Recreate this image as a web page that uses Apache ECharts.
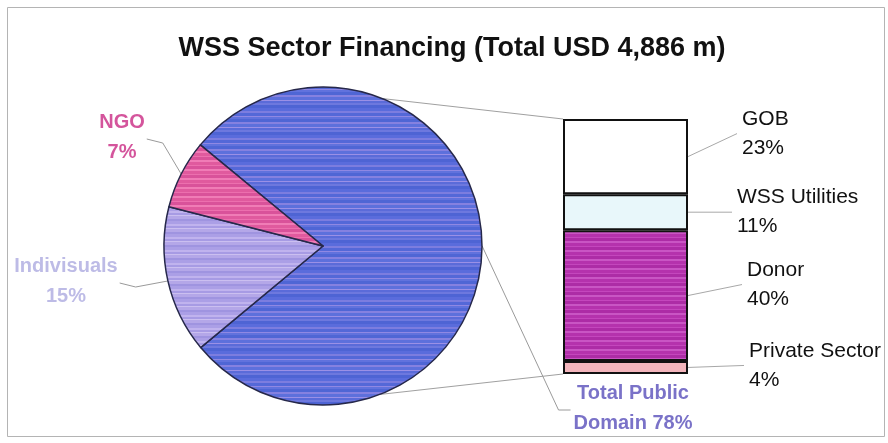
<!DOCTYPE html>
<html>
<head>
<meta charset="utf-8">
<script src="https://cdn.jsdelivr.net/npm/echarts@6/dist/echarts.min.js"></script>
<style>
  html, body { margin: 0; padding: 0; background: #ffffff; }
  #main { width: 888px; height: 443px; }
</style>
</head>
<body>
<div id="main"></div>
<script>
// Pie: funding sources (percent of total)
const pieNames = ['Total Public Domain', 'Indivisuals', 'NGO'];
const pieValues = [78, 15, 7];

// Stacked bar: breakdown of the public domain share, bottom to top
const barNames = ['Private Sector', 'Donor', 'WSS Utilities', 'GOB'];
const barValues = [4, 40, 11, 23];

const titleText = 'WSS Sector Financing (Total USD 4,886 m)';

const FONT = '"Liberation Sans", Arial, Helvetica, sans-serif';

// Horizontal stripe texture, like a scanned print fill
function stripes(colors, heights) {
  const total = heights.reduce((a, b) => a + b, 0);
  const c = document.createElement('canvas');
  c.width = 8; c.height = total;
  const g = c.getContext('2d');
  let y = 0;
  colors.forEach((col, i) => {
    g.fillStyle = col;
    g.fillRect(0, y, 8, heights[i]);
    y += heights[i];
  });
  return { image: c, repeat: 'repeat' };
}

const fillPublic = stripes(
  ['#5a6cdc', '#7c7ddf', '#5468d8', '#8f88e3', '#6172dd', '#4f66d5', '#8581e0', '#5d70dc', '#9a90e6', '#5b6bd9', '#6d78de', '#4e64d4'],
  [3, 2, 3, 1, 2, 3, 2, 3, 1, 2, 2, 3]);
const fillIndiv = stripes(
  ['#ab9fe6', '#c0b3ee', '#a79be4', '#cbbff0', '#b4a7e8', '#9f94e0'],
  [3, 2, 2, 1, 3, 2]);
const fillNgo = stripes(['#e05a9e', '#ec6fae', '#d9529a', '#f07cb6'], [3, 1, 3, 2]);
const fillDonor = stripes(['#b532ad', '#c446bd', '#ad2ca6', '#c955c4'], [3, 1, 3, 2]);

const pieFills = [fillPublic, fillIndiv, fillNgo];
const pieLabelColors = ['#7a72c8', '#bdbbe6', '#d4559c'];
const barFills = ['#f3b5bc', fillDonor, '#e8f7fa', '#ffffff'];

// Pie geometry
const PIE_C = [323, 246];
const PIE_R = 159;

// Bar grid box
const GRID = { left: 563, top: 119, width: 125, height: 255 };

// Label anchor placements (centre of each text block)
const pieLabelPos = [
  { x: 633, y: 408, side: 'left' },
  { x: 66, y: 281, side: 'right' },
  { x: 122, y: 137, side: 'right' }
];
// Bar labels: left edge x, vertical shift from the segment centre
const barLabelPos = [
  { x: 749, dy: -2 },
  { x: 747, dy: -11 },
  { x: 737, dy: 0 },
  { x: 742, dy: -23 }
];

const chart = echarts.init(document.getElementById('main'), null, { renderer: 'canvas' });

const pieSeries = {
  type: 'pie',
  center: PIE_C,
  radius: PIE_R,
  startAngle: 140.5,
  clockwise: true,
  silent: true,
  data: pieNames.map((n, i) => ({
    name: n,
    value: pieValues[i],
    itemStyle: { color: pieFills[i] },
    label: { color: pieLabelColors[i] }
  })),
  itemStyle: { borderColor: '#26284a', borderWidth: 1.5 },
  label: {
    show: true,
    position: 'outside',
    fontFamily: FONT,
    fontSize: 20,
    fontWeight: 'bold',
    lineHeight: 30,
    align: 'center',
    formatter: p => p.dataIndex === 0
      ? 'Total Public\nDomain ' + p.value + '%'
      : p.name + '\n' + p.value + '%'
  },
  labelLine: { show: true, lineStyle: { color: '#9a9a9a', width: 1 } },
  labelLayout: params => {
    const pos = pieLabelPos[params.dataIndex];
    const w = params.labelRect.width;
    const start = params.labelLinePoints ? params.labelLinePoints[0] : [pos.x, pos.y];
    let pts;
    if (pos.side === 'left') {
      const ex = pos.x - w / 2 - 3;
      pts = [start, [ex - 12, pos.y + 2], [ex, pos.y + 2]];
    } else {
      const ex = pos.x + w / 2 + 2;
      pts = [start, [ex + 16, pos.y + 6], [ex, pos.y + 2]];
    }
    return {
      x: pos.x, y: pos.y,
      align: 'center', verticalAlign: 'middle',
      labelLinePoints: pts
    };
  }
};

const barSeries = barNames.map((n, i) => ({
  type: 'bar',
  name: n,
  stack: 'public',
  barWidth: '100%',
  silent: true,
  data: [barValues[i]],
  itemStyle: { color: barFills[i], borderColor: '#111111', borderWidth: 2 },
  label: {
    show: true,
    position: 'right',
    fontFamily: FONT,
    fontSize: 21,
    lineHeight: 29,
    color: '#111111',
    align: 'left',
    formatter: '{a}\n{c}%'
  },
  labelLayout: params => {
    const r = params.rect;
    const pos = barLabelPos[i];
    return {
      x: pos.x, y: r.y + r.height / 2 + pos.dy,
      align: 'left', verticalAlign: 'middle'
    };
  }
}));

// Connector lines from the pie to the bar's top and bottom corners
function piePoint(deg) {
  const a = deg * Math.PI / 180;
  return [PIE_C[0] + PIE_R * Math.cos(a), PIE_C[1] - PIE_R * Math.sin(a)];
}
const pTop = piePoint(68);
const pBot = piePoint(-69);

chart.setOption({
  animation: false,
  backgroundColor: '#ffffff',
  title: {
    text: titleText,
    left: 447,
    textAlign: 'center',
    top: 30,
    textStyle: { fontFamily: FONT, fontSize: 27, fontWeight: 'bold', color: '#111111' }
  },
  grid: GRID,
  xAxis: { type: 'category', data: ['Public'], show: false },
  yAxis: { type: 'value', min: 0, max: 78, show: false },
  series: [pieSeries].concat(barSeries)
});

// Leader lines from each bar segment's right edge to its label,
// positioned through the value axis
const graphics = [
  {
    type: 'rect',
    shape: { x: 7.5, y: 7.5, width: 877, height: 429 },
    style: { fill: null, stroke: '#b4b4b4', lineWidth: 1 },
    silent: true, z: -1
  },
  {
    type: 'line',
    shape: { x1: pTop[0], y1: pTop[1], x2: GRID.left, y2: GRID.top },
    style: { stroke: '#a0a0a0', lineWidth: 1 },
    silent: true, z: -1
  },
  {
    type: 'line',
    shape: { x1: pBot[0], y1: pBot[1], x2: GRID.left, y2: GRID.top + GRID.height },
    style: { stroke: '#a0a0a0', lineWidth: 1 },
    silent: true, z: -1
  }
];
let cum = 0;
barValues.forEach((v, i) => {
  const mid = chart.convertToPixel({ gridIndex: 0 }, ['Public', cum + v / 2]);
  cum += v;
  const edgeX = GRID.left + GRID.width;
  const pos = barLabelPos[i];
  graphics.push({
    type: 'line',
    shape: { x1: edgeX, y1: mid[1], x2: pos.x - 5, y2: mid[1] + pos.dy },
    style: { stroke: '#a8a8a8', lineWidth: 1 },
    silent: true, z: 1
  });
});
chart.setOption({ graphic: graphics });
</script>
</body>
</html>
